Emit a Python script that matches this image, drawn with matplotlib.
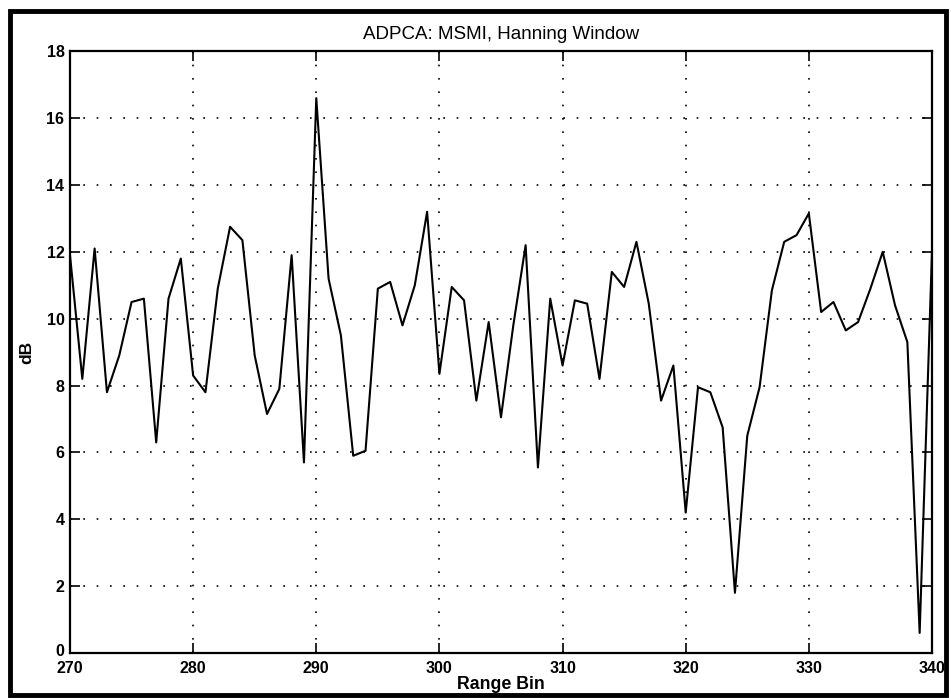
import matplotlib
matplotlib.use('Agg')
import matplotlib.pyplot as plt
import matplotlib.transforms as mtransforms
from matplotlib.patches import Rectangle

# range bins and dB values
bins = list(range(270, 341))
db = [11.9, 8.2, 12.1, 7.8, 8.9, 10.5, 10.6, 6.3, 10.6, 11.8,
      8.3, 7.8, 10.9, 12.75, 12.35, 8.9, 7.15, 7.9, 11.9, 5.7,
      16.6, 11.2, 9.5, 5.9, 6.05, 10.9, 11.1, 9.8, 11.0, 13.2,
      8.35, 10.95, 10.55, 7.55, 9.9, 7.05, 9.8, 12.2, 5.55, 10.6,
      8.6, 10.55, 10.45, 8.2, 11.4, 10.95, 12.3, 10.45, 7.55, 8.6,
      4.2, 7.95, 7.8, 6.75, 1.8, 6.5, 7.95, 10.85, 12.3, 12.5,
      13.15, 10.2, 10.5, 9.65, 9.9, 10.9, 12.0, 10.4, 9.3, 0.6,
      12.0]
xticks = [270, 280, 290, 300, 310, 320, 330, 340]
yticks = [0, 2, 4, 6, 8, 10, 12, 14, 16, 18]

plt.rcParams['font.family'] = ['Liberation Sans', 'DejaVu Sans']

fig = plt.figure(figsize=(9.51, 6.98), dpi=100)
ax = fig.add_axes([0.0736, 0.0645, 0.9064, 0.862])

ax.plot(bins, db, color='black', linewidth=1.5)

ax.set_xlim(270, 340)
ax.set_ylim(0, 18)
ax.set_xticks(xticks)
ax.set_yticks(yticks)
ax.grid(True, color='black', linestyle=(0, (1, 7)), linewidth=1.2)
ax.tick_params(direction='in', length=7, width=1.2, top=True, right=True,
               labelsize=11.5)
ax.tick_params(axis='x', pad=6)
ax.tick_params(axis='y', pad=4)
for lab in ax.get_xticklabels() + ax.get_yticklabels():
    lab.set_fontweight('bold')
for sp in ax.spines.values():
    sp.set_linewidth(1.6)

# the "0" sits just above "270" like in the original, nudge it up a bit
lab0 = ax.get_yticklabels()[0]
lab0.set_transform(lab0.get_transform() +
                   mtransforms.ScaledTranslation(0, 2.5 / 72, fig.dpi_scale_trans))

ax.set_title('ADPCA: MSMI, Hanning Window', fontsize=13.5, pad=9)
ax.set_xlabel('Range Bin', fontsize=12.8, fontweight='bold', labelpad=0)
ax.set_ylabel('dB', fontsize=12.5, fontweight='bold', labelpad=9)

# thick border of the scanned page
fig.patches.append(Rectangle((0.0105, 0.004), 0.984, 0.98, transform=fig.transFigure,
                             fill=False, edgecolor='black', linewidth=3.5))

fig.savefig('out.png', dpi=100)
